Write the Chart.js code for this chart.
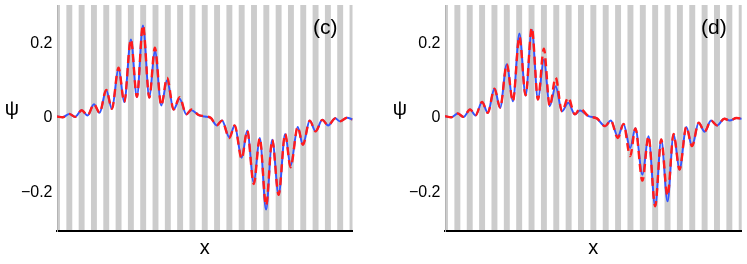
<!DOCTYPE html>
<html lang="es">
<head>
<meta charset="utf-8">
<title>ψ(x) – paneles (c) y (d)</title>
<script src="https://cdn.jsdelivr.net/npm/chart.js@4.4.1/dist/chart.umd.min.js"></script>
<style>
  html, body { margin: 0; padding: 0; background: #fff; }
  body { width: 747px; height: 264px; position: relative; overflow: hidden; }
  .panel { position: absolute; top: 0; }
  .panel canvas { display: block; }
  #panel-c { left: 0; }
  #panel-d { left: 388px; }
</style>
</head>
<body>
<div class="panel" id="panel-c"><canvas id="chartC" width="373" height="264"></canvas></div>
<div class="panel" id="panel-d"><canvas id="chartD" width="359" height="264"></canvas></div>
<script>
// --- Datos (extremos de cada oscilación) ---
const yTicks = [-0.2, 0, 0.2];
const xMin = 0;
const xMax = 24;

// Panel (c)
const cX = [0, 0.45, 1.0, 1.47, 2.0, 2.48, 3.0, 3.46, 4.0, 4.46, 5.0, 5.46, 6.0, 6.49, 6.98, 7.5, 7.95, 8.47, 8.94, 9.47, 9.96, 10.5, 10.92, 11.5, 12.0, 12.5, 12.96, 13.4, 14.0, 14.43, 15.0, 15.45, 15.98, 16.47, 16.98, 17.48, 18.0, 18.53, 18.97, 19.55, 19.97, 20.53, 21.0, 21.55, 22.02, 22.6, 22.98, 23.57, 24.0];
const cBlue = [0.004, 0.002, 0.011, 0.003, 0.021, 0.007, 0.037, 0.014, 0.075, 0.025, 0.134, 0.043, 0.212, 0.057, 0.25, 0.055, 0.182, 0.034, 0.102, 0.023, 0.052, 0.010, 0.021, 0.008, 0.004, 0.0, -0.020, -0.007, -0.052, -0.020, -0.107, -0.034, -0.174, -0.054, -0.247, -0.059, -0.207, -0.043, -0.129, -0.024, -0.072, -0.007, -0.036, -0.005, -0.020, -0.001, -0.009, 0.001, -0.004];
const cRed = [0.004, 0.002, 0.011, 0.003, 0.021, 0.007, 0.037, 0.014, 0.076, 0.025, 0.136, 0.043, 0.212, 0.057, 0.25, 0.055, 0.19, 0.034, 0.109, 0.023, 0.056, 0.010, 0.023, 0.008, 0.005, 0.0, -0.020, -0.007, -0.054, -0.020, -0.110, -0.034, -0.178, -0.054, -0.236, -0.059, -0.207, -0.043, -0.133, -0.024, -0.072, -0.007, -0.036, -0.005, -0.020, -0.001, -0.009, 0.001, -0.004];

// Panel (d)
const dX = [0, 0.5, 1.03, 1.5, 2.03, 2.47, 3.0, 3.46, 4.0, 4.46, 5.0, 5.49, 6.02, 6.52, 7.02, 7.52, 8.0, 8.47, 8.95, 9.46, 9.97, 10.5, 10.92, 11.6, 12.28, 12.95, 13.41, 13.98, 14.44, 14.98, 15.4, 15.97, 16.46, 17.0, 17.49, 18.0, 18.49, 18.97, 19.52, 19.98, 20.52, 21.0, 21.52, 22.0, 22.6, 23.03, 23.58, 24.0];
const dBlue = [0.005, 0.002, 0.012, 0.003, 0.023, 0.007, 0.043, 0.014, 0.079, 0.028, 0.145, 0.045, 0.228, 0.061, 0.238, 0.050, 0.158, 0.032, 0.086, 0.018, 0.041, 0.010, 0.020, 0.005, -0.001, -0.022, -0.007, -0.050, -0.016, -0.081, -0.028, -0.153, -0.049, -0.238, -0.058, -0.225, -0.043, -0.139, -0.024, -0.076, -0.013, -0.037, -0.007, -0.020, -0.002, -0.007, 0.0, -0.002];
const dRed = [0.005, 0.002, 0.012, 0.003, 0.023, 0.007, 0.043, 0.014, 0.079, 0.028, 0.145, 0.045, 0.22, 0.061, 0.244, 0.050, 0.187, 0.032, 0.109, 0.018, 0.055, 0.010, 0.025, 0.005, -0.001, -0.022, -0.007, -0.054, -0.016, -0.103, -0.028, -0.169, -0.049, -0.238, -0.058, -0.21, -0.043, -0.139, -0.024, -0.076, -0.013, -0.037, -0.007, -0.020, -0.002, -0.007, 0.0, -0.002];

// --- Estilo ---
const fontFamily = '"Liberation Sans", Arial, sans-serif';
const blueColor = '#3456ff';
const redColor = '#ff1c1c';
const stripeColor = '#cccccc';
const stripeHalfWidth = 0.24; // franjas grises centradas en cada entero de x

function toPoints(xs, ys) { return xs.map((x, i) => ({ x: x, y: ys[i] })); }
function formatTick(v) { if (v === 0) return '0'; return (v < 0 ? '\u2212' : '') + Math.abs(v).toFixed(1); }

// Franjas verticales de fondo, dibujadas antes de los ejes
const stripesPlugin = {
    id: 'stripes',
    beforeDraw(chart) {
        const { ctx, chartArea: a, scales: { x } } = chart;
        ctx.save();
        ctx.beginPath();
        ctx.rect(a.left, a.top, a.right - a.left, a.bottom - a.top);
        ctx.clip();
        ctx.fillStyle = stripeColor;
        for (let k = Math.ceil(x.min - stripeHalfWidth); k <= x.max + stripeHalfWidth; k++) {
            const x0 = x.getPixelForValue(k - stripeHalfWidth);
            const x1 = x.getPixelForValue(k + stripeHalfWidth);
            ctx.fillRect(x0, a.top, x1 - x0, a.bottom - a.top);
        }
        ctx.restore();
    }
};

// Etiqueta ψ (sin rotar) y letra del panel
const labelsPlugin = {
    id: 'panelLabels',
    afterDraw(chart, args, opts) {
        const { ctx, chartArea: a } = chart;
        ctx.save();
        ctx.fillStyle = '#000';
        ctx.textBaseline = 'middle';
        ctx.font = '20px ' + fontFamily;
        ctx.textAlign = 'center';
        ctx.fillText('ψ', a.left - 45, (a.top + a.bottom) / 2 - 9);
        ctx.font = '21px ' + fontFamily;
        ctx.textAlign = 'right';
        ctx.fillText(opts.text, a.right - 15, a.top + 23);
        ctx.restore();
    }
};

function makeChart(canvasId, label, xs, blue, red, rightPad) {
    const ctx = document.getElementById(canvasId).getContext('2d');
    return new Chart(ctx, {
        type: 'line',
        data: {
            datasets: [
                {
                    // rojo discontinuo encima
                    data: toPoints(xs, red),
                    borderColor: redColor,
                    borderWidth: 2.4,
                    borderDash: [8, 5],
                    pointRadius: 0,
                    cubicInterpolationMode: 'monotone'
                },
                {
                    data: toPoints(xs, blue),
                    borderColor: blueColor,
                    borderWidth: 2,
                    pointRadius: 0,
                    cubicInterpolationMode: 'monotone'
                }
            ]
        },
        options: {
            responsive: false,
            animation: false,
            events: [],
            layout: { padding: { left: 0, right: rightPad, top: 5, bottom: 0 } },
            plugins: {
                legend: { display: false },
                tooltip: { enabled: false },
                panelLabels: { text: label }
            },
            scales: {
                x: {
                    type: 'linear',
                    min: xMin,
                    max: xMax,
                    afterFit: s => { s.height = 33; },
                    grid: { display: false, drawTicks: false },
                    ticks: { display: false },
                    border: { display: true, color: '#000', width: 2 },
                    title: {
                        display: true,
                        text: 'x',
                        color: '#000',
                        font: { family: fontFamily, size: 20 },
                        padding: { top: 0, bottom: 4 }
                    }
                },
                y: {
                    min: -0.305,
                    max: 0.305,
                    afterBuildTicks: s => { s.ticks = yTicks.map(v => ({ value: v })); },
                    afterFit: s => { s.width = 57; s.paddingTop = 0; s.paddingBottom = 0; },
                    grid: { display: false, drawTicks: false },
                    border: { display: true, color: '#b4b4b4', width: 1 },
                    ticks: {
                        padding: 4.5,
                        color: '#000',
                        font: { family: fontFamily, size: 16 },
                        callback: v => formatTick(v)
                    }
                }
            }
        },
        plugins: [stripesPlugin, labelsPlugin]
    });
}

makeChart('chartC', '(c)', cX, cBlue, cRed, 20.5);
makeChart('chartD', '(d)', dX, dBlue, dRed, 5.3);
</script>
</body>
</html>
